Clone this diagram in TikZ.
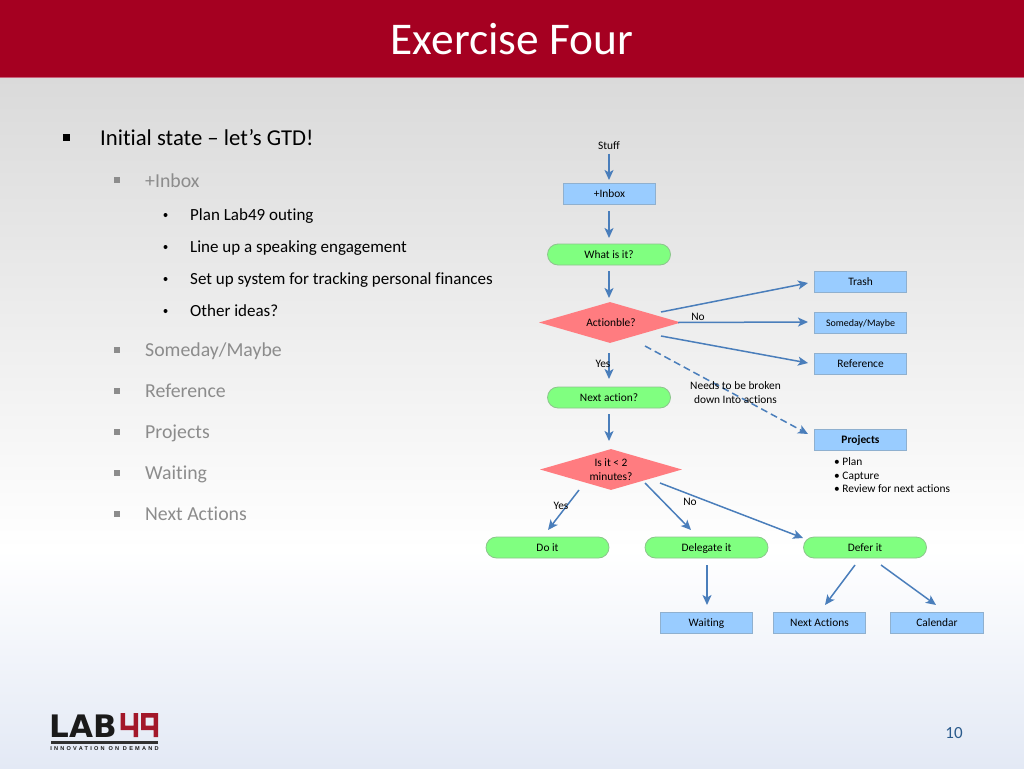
\documentclass[tikz,border=0pt]{standalone}
\usepackage{fontspec}
\setmainfont{Carlito}[Ligatures=NoCommon]
\newfontfamily\logofont{Liberation Sans}[LetterSpace=40]
\newfontfamily\logobig{DejaVu Sans}
\usetikzlibrary{arrows.meta,shapes.geometric,shapes.misc,calc}
\definecolor{bandred}{HTML}{A50021}
\definecolor{bandedge}{HTML}{C8607A}
\definecolor{bgtop}{HTML}{DADADA}
\definecolor{bgbottom}{HTML}{E3E9F5}
\definecolor{boxblue}{HTML}{99CCFF}
\definecolor{boxedge}{HTML}{8FB0CF}
\definecolor{okgreen}{HTML}{80FF80}
\definecolor{okedge}{HTML}{8CC48C}
\definecolor{diared}{HTML}{FF7C80}
\definecolor{arrowblue}{HTML}{4A7EBB}
\definecolor{midgrey}{HTML}{8C8C8C}
\definecolor{numblue}{HTML}{2A5A8C}
\definecolor{logored}{HTML}{A3182A}
\definecolor{logoblack}{HTML}{1A1A1A}
\newcommand{\fs}[1]{\fontsize{#1}{1.19\dimexpr #1pt\relax}\selectfont}
\tikzset{
  boxnode/.style={draw=boxedge,line width=0.8pt,fill=boxblue,minimum width=92.5pt,minimum height=21pt,inner sep=0pt,text=black,font=\fs{11.4},text height=8.5pt,text depth=1.5pt},
  pill/.style={rounded rectangle,draw=okedge,line width=0.8pt,fill=okgreen,minimum width=123pt,minimum height=21pt,inner sep=0pt,text=black,font=\fs{11.4},text height=8.5pt,text depth=1.5pt},
  choice/.style={diamond,fill=diared,inner sep=0pt,minimum width=142pt,minimum height=41pt,aspect=3.4,align=center,font=\fs{11.4}},
  lab/.style={inner sep=0pt,font=\fs{11.4},align=center},
  link/.style={draw=arrowblue,line width=1.5pt,-{Stealth[length=10pt,width=9pt,inset=2.5pt]}},
  lvlA/.style={anchor=base west,inner sep=0pt,font=\fs{22.7}},
  lvlB/.style={anchor=base west,inner sep=0pt,font=\fs{19.8},text=midgrey},
  lvlC/.style={anchor=base west,inner sep=0pt,font=\fs{17}},
}
\begin{document}
\begin{tikzpicture}[x=1pt,y=-1pt]
\useasboundingbox (0,0) rectangle (1024,768);
% background
\fill[top color=bgtop,bottom color=white] (0,77) rectangle (1024,550);
\fill[top color=white,bottom color=bgbottom] (0,550) rectangle (1024,768);
\fill[bandred] (0,0) rectangle (1024,76.5);
\fill[bandedge] (0,76.5) rectangle (1024,77.5);
\node[inner sep=0pt,text=white,font=\fs{45.4}] (title) at (512,39) {Exercise Four};
% left text
\node[lvlA] (t1) at (100,145.5) {Initial state – let’s GTD!};
\fill (63,134) rectangle (70,141);
\node[lvlB] (t2) at (145,187.5) {+Inbox};
\fill[midgrey] (114,177) rectangle (120,183);
\node[lvlC] (t3) at (190,220.5) {Plan Lab49 outing};
\node[lvlC] (t4) at (190,252.5) {Line up a speaking engagement};
\node[lvlC] (t5) at (190,284.5) {Set up system for tracking personal finances};
\node[lvlC] (t6) at (190,316.5) {Other ideas?};
\foreach \yy in {215,247,279,311} \fill (165.5,\yy) circle (2);
\node[lvlB] (t7) at (145,356.5) {Someday/Maybe};
\node[lvlB] (t8) at (145,397.5) {Reference};
\node[lvlB] (t9) at (145,438.5) {Projects};
\node[lvlB] (t10) at (145,479.5) {Waiting};
\node[lvlB] (t11) at (145,520.5) {Next Actions};
\foreach \yy in {350,391,432,473,514} \fill[midgrey] (114,\yy-3) rectangle (120,\yy+3);
% diagram nodes
\node[lab] (stuff) at (609,145.5) {Stuff};
\node[boxnode] (inbox) at (609.5,194) {+Inbox};
\node[pill] (what) at (609,254.5) {What is it?};
\node[choice] (act) at (610,322.5) {\hspace{2pt}Actionble?};
\node[pill] (next) at (609,397.5) {Next action?};
\node[choice] (small) at (611,469.5) {Is it < 2\\minutes?};
\node[boxnode] (trash) at (860.5,281.5) {Trash};
\node[boxnode,font=\fs{10}] (someday) at (860.5,322.5) {Someday/Maybe};
\node[boxnode] (reference) at (860.5,363.5) {Reference};
\node[boxnode,font=\fs{11.4}\bfseries] (projects) at (860.5,439.5) {Projects};
\node[pill] (doit) at (547.5,547.5) {Do it};
\node[pill] (delegate) at (706.5,547.5) {Delegate it};
\node[pill] (defer) at (865,547.5) {Defer it};
\node[boxnode] (waiting) at (706.5,622.5) {Waiting};
\node[boxnode] (nextact) at (819.5,622.5) {Next Actions};
\node[boxnode] (calendar) at (937,622.5) {Calendar};
% connectors
\draw[link] ([shift={(0,8)}]stuff.center) -- ([shift={(-0.5,-14)}]inbox.center);
\draw[link] ([shift={(-0.5,17)}]inbox.center) -- ([shift={(0,-16.5)}]what.center);
\draw[link] ([shift={(0,16.5)}]what.center) -- ([shift={(-1,-24.5)}]act.center);
\draw[link] ([shift={(51,-10.5)}]act.center) -- ([shift={(-52.5,1.5)}]trash.center);
\draw[link] ([shift={(68,0)}]act.center) -- ([shift={(-52.5,-0.5)}]someday.center);
\draw[link] ([shift={(51,13.5)}]act.center) -- ([shift={(-52.5,-0.5)}]reference.center);
\draw[link,dash pattern=on 7pt off 4pt] ([shift={(35,23.5)}]act.center) -- ([shift={(-52.5,-5.5)}]projects.center);
\draw[link] ([shift={(-1,30.5)}]act.center) -- ([shift={(0,-18.5)}]next.center);
\draw[link] ([shift={(0,16.5)}]next.center) -- ([shift={(-2,-28.5)}]small.center);
\draw[link] ([shift={(-32,20.5)}]small.center) -- ([shift={(0.5,-17.5)}]doit.center);
\draw[link] ([shift={(34,13.5)}]small.center) -- ([shift={(-15.5,-17.5)}]delegate.center);
\draw[link] ([shift={(49,13.5)}]small.center) -- ([shift={(-62,-9.5)}]defer.center);
\draw[link] ([shift={(0.5,17.5)}]delegate.center) -- ([shift={(0.5,-17.5)}]waiting.center);
\draw[link] ([shift={(-10,17.5)}]defer.center) -- ([shift={(5.5,-17.5)}]nextact.center);
\draw[link] ([shift={(16,17.5)}]defer.center) -- ([shift={(-1,-17.5)}]calendar.center);
% labels
\node[lab] (lno1) at (698,316.5) {No};
\node[lab] (lyes1) at (603,363.5) {Yes};
\node[lab] (lneeds) at (735.5,392.5) {Needs to be broken\\down Into actions};
\node[lab] (lyes2) at (561,505.5) {Yes};
\node[lab] (lno2) at (690,502) {No};
\node[lab,anchor=base west] (pb1) at (834,465.5) {• Plan};
\node[lab,anchor=base west] (pb2) at (834,479) {• Capture};
\node[lab,anchor=base west] (pb3) at (834,492.5) {• Review for next actions};
% page number
\node[inner sep=0pt,text=numblue,font=\fs{17}] (pagenum) at (954,733) {10};
% logo
\node[inner sep=0pt,anchor=base west,text=logoblack,font=\logobig\bfseries\fs{31}] (loglab) at (49.5,737) {LAB};
\fill[logored] (120.5,713) rectangle (125,730) (120.5,725.5) rectangle (138,730) (133.5,713) rectangle (138,737);
\fill[logored] (141,713) rectangle (145.5,730) (141,713) rectangle (158,717.5) (141,725.5) rectangle (158,730) (153.5,713) rectangle (158,737);
\fill[logoblack!90] (51,741) rectangle (158,743.5);
\node[inner sep=0pt,text=logoblack,font=\logofont\bfseries\fs{5.6}] (logtag) at (104.5,748.5) {INNOVATION ON DEMAND};
\end{tikzpicture}
\end{document}
